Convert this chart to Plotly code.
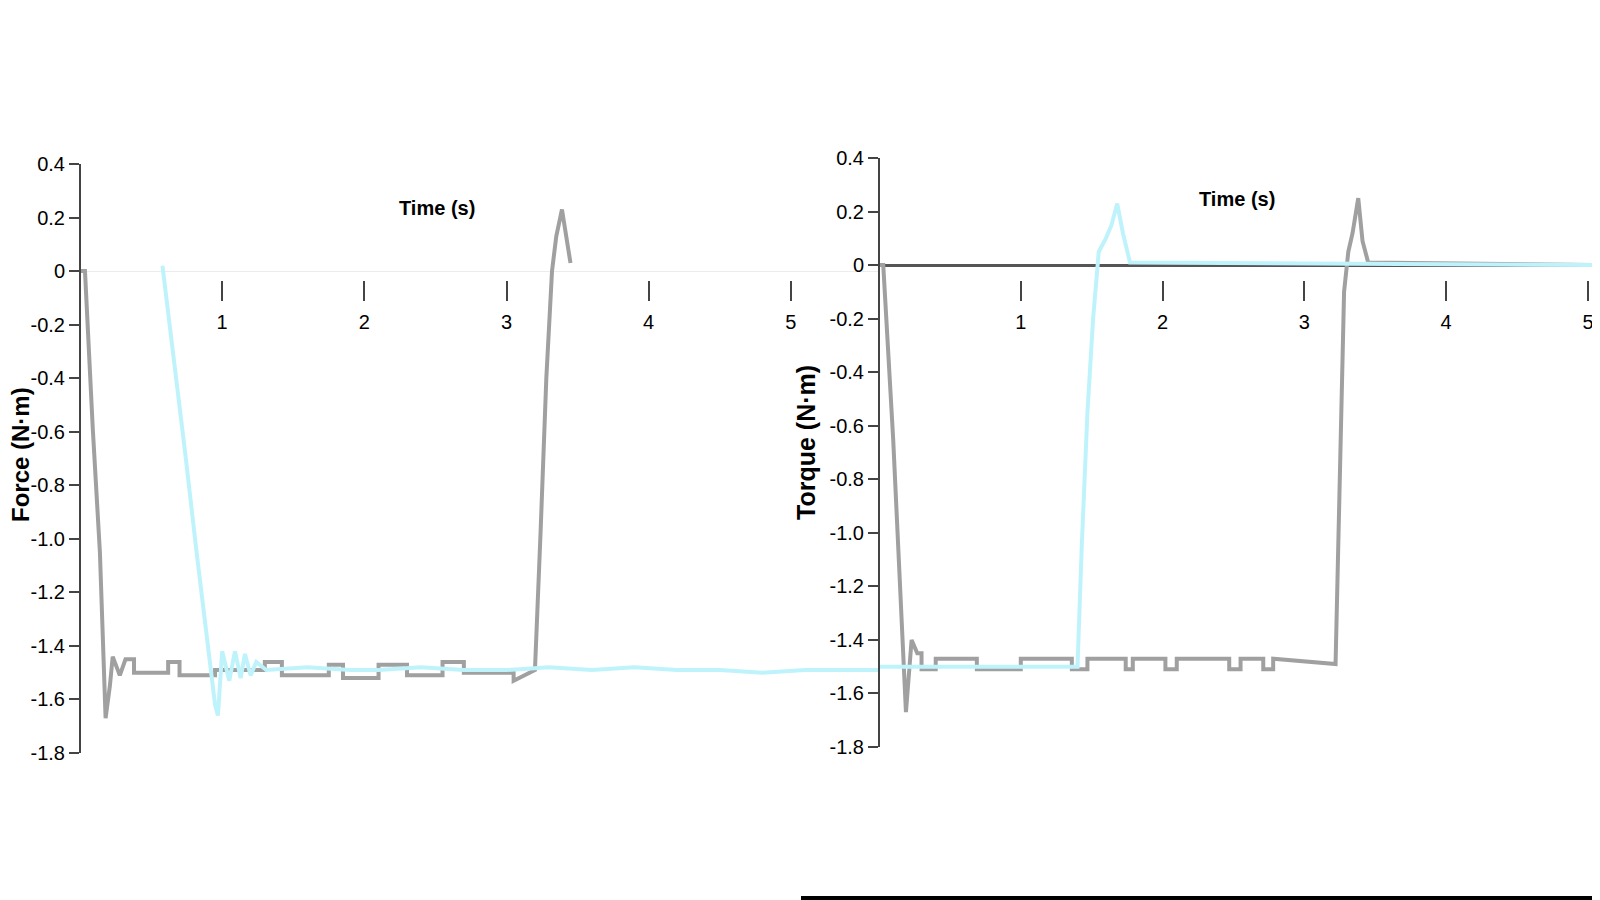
import plotly.graph_objects as go

# left panel: reference (gray) and measured (cyan)
t_ref_left = [0.00, 0.035, 0.09, 0.14, 0.18, 0.21, 0.23, 0.28, 0.32, 0.38, 0.38, 0.62, 0.62,
              0.70, 0.70, 0.95, 0.95, 1.30, 1.30, 1.42, 1.42, 1.75, 1.75, 1.85, 1.85, 2.10,
              2.10, 2.30, 2.30, 2.55, 2.55, 2.70, 2.70, 3.05, 3.05, 3.20, 3.24, 3.28, 3.32,
              3.35, 3.39, 3.42, 3.45]
f_ref_left = [0.00, 0.00, -0.59, -1.05, -1.67, -1.55, -1.44, -1.51, -1.45, -1.45, -1.50, -1.50,
              -1.46, -1.46, -1.51, -1.51, -1.49, -1.49, -1.46, -1.46, -1.51, -1.51, -1.47, -1.47,
              -1.52, -1.52, -1.47, -1.47, -1.51, -1.51, -1.46, -1.46, -1.50, -1.50, -1.53, -1.49,
              -0.97, -0.40, 0.00, 0.13, 0.23, 0.12, 0.03]

t_act_left = [0.58, 0.66, 0.74, 0.82, 0.90, 0.95, 0.97, 1.00, 1.05, 1.09, 1.13, 1.16, 1.20,
              1.24, 1.31, 1.60, 1.90, 2.10, 2.40, 2.70, 3.00, 3.30, 3.60, 3.90, 4.20, 4.50,
              4.80, 5.10, 5.40, 5.62]
f_act_left = [0.02, -0.32, -0.68, -1.05, -1.40, -1.62, -1.66, -1.42, -1.53, -1.42, -1.52,
              -1.43, -1.51, -1.46, -1.49, -1.48, -1.49, -1.49, -1.48, -1.49, -1.49, -1.48,
              -1.49, -1.48, -1.49, -1.49, -1.50, -1.49, -1.49, -1.49]

# right panel
t_ref_right = [0.00, 0.03, 0.10, 0.19, 0.23, 0.27, 0.30, 0.30, 0.40, 0.40, 0.69, 0.69, 1.00,
               1.00, 1.36, 1.36, 1.47, 1.47, 1.74, 1.74, 1.79, 1.79, 2.02, 2.02, 2.10, 2.10,
               2.47, 2.47, 2.55, 2.55, 2.71, 2.71, 2.78, 2.78, 3.22, 3.25, 3.28, 3.31, 3.34,
               3.38, 3.41, 3.45, 5.10]
f_ref_right = [0.00, 0.00, -0.65, -1.67, -1.40, -1.45, -1.45, -1.51, -1.51, -1.47, -1.47, -1.51,
               -1.51, -1.47, -1.47, -1.51, -1.51, -1.47, -1.47, -1.51, -1.51, -1.47, -1.47, -1.51,
               -1.51, -1.47, -1.47, -1.51, -1.51, -1.47, -1.47, -1.51, -1.51, -1.47, -1.49, -0.80,
               -0.10, 0.05, 0.12, 0.25, 0.09, 0.01, 0.00]

t_act_right = [0.00, 1.40, 1.43, 1.47, 1.51, 1.55, 1.60, 1.64, 1.68, 1.72, 1.77, 5.10]
f_act_right = [-1.50, -1.50, -1.05, -0.55, -0.20, 0.05, 0.10, 0.15, 0.23, 0.12, 0.01, 0.00]

y_ticks = [-1.8, -1.6, -1.4, -1.2, -1.0, -0.8, -0.6, -0.4, -0.2, 0, 0.2, 0.4]
y_tick_text = ["-1.8", "-1.6", "-1.4", "-1.2", "-1.0", "-0.8", "-0.6", "-0.4", "-0.2", "0", "0.2", "0.4"]
x_ticks = [1, 2, 3, 4, 5]

# the page puts the figure 8px in from the window corner
W, H = 1592, 892
FONT = "Liberation Sans, Arial, sans-serif"
GRAY = "#a0a0a0"
CYAN = "#bff3fb"


def px_x(p):
    return (p - 8) / W


def px_y(p):
    return (900 - p) / H


fig = go.Figure()
fig.add_trace(go.Scatter(x=t_ref_left, y=f_ref_left, mode="lines", line=dict(color=GRAY, width=4),
                         xaxis="x", yaxis="y", showlegend=False))
fig.add_trace(go.Scatter(x=t_act_left, y=f_act_left, mode="lines", line=dict(color=CYAN, width=4),
                         xaxis="x", yaxis="y", showlegend=False))
fig.add_trace(go.Scatter(x=t_ref_right, y=f_ref_right, mode="lines", line=dict(color=GRAY, width=4),
                         xaxis="x2", yaxis="y2", showlegend=False))
fig.add_trace(go.Scatter(x=t_act_right, y=f_act_right, mode="lines", line=dict(color=CYAN, width=4),
                         xaxis="x2", yaxis="y2", showlegend=False))

tick_font = dict(family=FONT, size=20, color="black")
x_common = dict(tickvals=x_ticks, ticks="outside", ticklen=20, tickwidth=2, tickcolor="#444",
                ticklabelstandoff=4, showline=False, showgrid=False, zeroline=False,
                tickfont=tick_font, automargin=False)
y_common = dict(range=[-1.8, 0.4], tickvals=y_ticks, ticktext=y_tick_text, ticks="outside",
                ticklen=10, tickwidth=2, tickcolor="#444", showline=True, linecolor="#444",
                linewidth=2, showgrid=False, tickfont=tick_font, automargin=False)

fig.update_layout(
    width=W, height=H,
    margin=dict(l=0, r=0, t=0, b=0),
    paper_bgcolor="white", plot_bgcolor="white",
    xaxis=dict(domain=[px_x(80), px_x(879)], range=[0, 5.62], anchor="free",
               position=px_y(280), **x_common),
    yaxis=dict(domain=[px_y(753), px_y(164)], anchor="free", position=px_x(80),
               zeroline=True, zerolinecolor="#ececec", zerolinewidth=1, **y_common),
    xaxis2=dict(domain=[px_x(879), 1.0], range=[0, 5.085], anchor="free",
                position=px_y(280), **x_common),
    yaxis2=dict(domain=[px_y(747), px_y(158)], anchor="free", position=px_x(879),
                zeroline=True, zerolinecolor="#555", zerolinewidth=3, **y_common),
)

title_font = dict(family=FONT, size=20, color="black")
fig.add_annotation(text="<b>Time (s)</b>", x=px_x(437), y=px_y(208), xref="paper", yref="paper",
                   xanchor="center", yanchor="middle", showarrow=False, font=title_font)
fig.add_annotation(text="<b>Time (s)</b>", x=px_x(1237), y=px_y(199), xref="paper", yref="paper",
                   xanchor="center", yanchor="middle", showarrow=False, font=title_font)
fig.add_annotation(text="<b>Force (N·m)</b>", x=px_x(20), y=px_y(455), xref="paper", yref="paper",
                   xanchor="center", yanchor="middle", showarrow=False, textangle=-90,
                   font=dict(family=FONT, size=24, color="black"))
fig.add_annotation(text="<b>Torque (N·m)</b>", x=px_x(806), y=px_y(443), xref="paper", yref="paper",
                   xanchor="center", yanchor="middle", showarrow=False, textangle=-90,
                   font=dict(family=FONT, size=25, color="black"))

# black strip along the bottom right edge
fig.add_shape(type="rect", xref="paper", yref="paper", x0=px_x(801), x1=1.0, y0=0, y1=4 / H,
              fillcolor="black", line=dict(width=0))

fig.write_html("out.html")
